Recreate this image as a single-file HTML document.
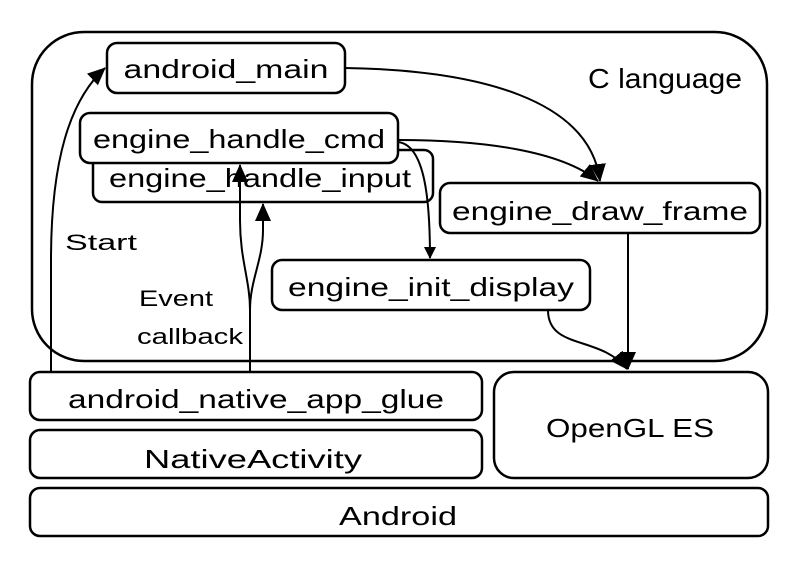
<!DOCTYPE html>
<html><head><meta charset="utf-8"><style>
html,body{margin:0;padding:0;background:#fff;width:800px;height:566px;overflow:hidden}
text{font-family:"Liberation Sans",sans-serif;fill:#000}
</style></head><body>
<svg width="800" height="566" viewBox="0 0 800 566" xmlns="http://www.w3.org/2000/svg">
<defs><marker id="a" markerWidth="12" markerHeight="12" refX="11" refY="6" orient="auto" markerUnits="userSpaceOnUse" viewBox="0 0 12 12"><path d="M0,0 L12,6 L0,12 z" fill="#000"/></marker>
<marker id="b" markerWidth="18" markerHeight="16" refX="17" refY="8" orient="auto" markerUnits="userSpaceOnUse" viewBox="0 0 18 16"><path d="M0,0 L18,8 L0,16 z" fill="#000"/></marker></defs>
<g fill="none" stroke="#000" stroke-width="2.5">
<rect x="32" y="32" width="735" height="329" rx="52"/>
<rect x="93" y="150" width="340" height="52" rx="9"/>
<rect x="80" y="113" width="318" height="50" rx="10" fill="#fff"/>
<rect x="107" y="43" width="238" height="50" rx="10"/>
<rect x="440" y="183" width="320" height="50" rx="10"/>
<rect x="272" y="260" width="318" height="50" rx="10"/>
<rect x="30" y="372" width="452" height="48" rx="10"/>
<rect x="30" y="430" width="452" height="48" rx="10"/>
<rect x="494" y="372" width="274" height="106" rx="20"/>
<rect x="30" y="488" width="738" height="48" rx="10"/>
</g>
<g fill="none" stroke="#000" stroke-width="2">
<path d="M51,372 L51,260 C51,160 70,100 105,68" marker-end="url(#b)"/>
<path d="M345,68 C480,70 590,100 600,181" marker-end="url(#b)"/>
<path d="M398,140 C480,140 560,150 598,181" marker-end="url(#b)"/>
<path d="M398,142 C425,145 430,200 430,258" marker-end="url(#a)"/>
<path d="M628,233 L628,369" marker-end="url(#b)"/>
<path d="M548,310 C548,350 600,335 627,369" marker-end="url(#b)"/>
<path d="M250,372 L250,310 C250,280 240,260 240,220 L240,165" marker-end="url(#b)"/>
<path d="M250,372 L250,310 C250,280 263,260 263,230 L263,204" marker-end="url(#b)"/>
</g>
<g font-size="26" text-anchor="middle">
<text x="226" y="78" textLength="205" lengthAdjust="spacingAndGlyphs">android_main</text>
<text x="260" y="187" textLength="302" lengthAdjust="spacingAndGlyphs">engine_handle_input</text>
<text x="239" y="148" textLength="292" lengthAdjust="spacingAndGlyphs">engine_handle_cmd</text>
<text x="600" y="220" textLength="296" lengthAdjust="spacingAndGlyphs">engine_draw_frame</text>
<text x="431" y="296" textLength="286" lengthAdjust="spacingAndGlyphs">engine_init_display</text>
<text x="256" y="408" textLength="376" lengthAdjust="spacingAndGlyphs">android_native_app_glue</text>
<text x="253" y="468" textLength="218" lengthAdjust="spacingAndGlyphs">NativeActivity</text>
<text x="630" y="437" textLength="168" lengthAdjust="spacingAndGlyphs">OpenGL ES</text>
<text x="398" y="525" textLength="118" lengthAdjust="spacingAndGlyphs">Android</text>
<text x="665" y="88" font-size="28" textLength="154" lengthAdjust="spacingAndGlyphs">C language</text>
</g>
<g font-size="22">
<text x="65" y="250" textLength="72" lengthAdjust="spacingAndGlyphs">Start</text>
<text x="139" y="306" textLength="74" lengthAdjust="spacingAndGlyphs">Event</text>
<text x="137" y="344" textLength="106" lengthAdjust="spacingAndGlyphs">callback</text>
</g>
</svg>
</body></html>
